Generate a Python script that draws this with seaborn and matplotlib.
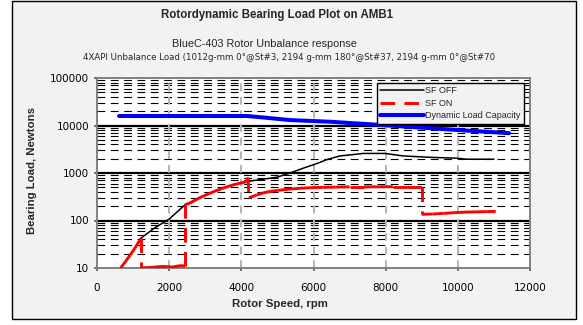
import numpy as np
import pandas as pd
import seaborn as sns
import matplotlib
matplotlib.use("Agg")
import matplotlib.pyplot as plt
from matplotlib.lines import Line2D
from matplotlib.patches import Rectangle
from matplotlib.ticker import FixedLocator, NullFormatter

# ---------------- data ----------------
speed_off = [656, 915, 1190, 1210, 1600, 2000, 2440, 2580, 3000, 3490, 3800, 4160,
             4430, 4990, 5350, 5700, 6090, 6400, 6735, 7010, 7370, 7980, 8480,
             9230, 9970, 10250, 11000]
load_off = [10, 18.6, 39, 42, 70, 107, 214, 234, 340, 480, 570, 660,
            710, 815, 1000, 1250, 1580, 1950, 2290, 2400, 2580, 2580, 2290,
            2140, 2050, 1950, 1950]

speed_on = [656, 800, 915, 1050, 1190, 1210, 1210, 1500, 1800, 2100, 2300, 2440,
            2440, 2580, 2800, 3000, 3250, 3490, 3800, 4000, 4160, 4190, 4210,
            4430, 4600, 4800, 5000, 5350, 5600, 5900, 6260, 6600, 7000, 7400,
            7800, 8200, 8600, 9000, 9000, 9300, 9600, 9900, 10200, 10500, 10800,
            11050]
load_on = [10, 14, 18.6, 26, 39, 42, 10, 10.3, 10.8, 10.5, 11.2, 11,
           214, 234, 290, 340, 410, 480, 570, 620, 660, 800, 300,
           345, 380, 410, 430, 460, 475, 490, 500, 505, 510, 510,
           512, 515, 515, 515, 135, 137, 141, 146, 150, 152, 154,
           155]

speed_cap = [610, 1500, 2500, 3500, 4160, 4800, 5350, 6460, 8000, 10000, 11420]
load_cap = [15850, 15850, 15850, 15850, 15850, 14300, 13000, 12000, 10100, 8030, 6900]

x_ticks = [0, 2000, 4000, 6000, 8000, 10000, 12000]
y_ticks = [10, 100, 1000, 10000, 100000]
y_tick_labels = ["10", "100", "1000", "10000", "100000"]

series_names = ["SF OFF", "SF ON", "Dynamic Load Capacity"]
title = "Rotordynamic Bearing Load Plot on AMB1"
subtitle = "BlueC-403 Rotor Unbalance response"
subtitle2 = "4XAPI Unbalance Load (1012g-mm 0°@St#3, 2194 g-mm 180°@St#37, 2194 g-mm 0°@St#70"

# ---------------- styling ----------------
sns.set_theme(style="white")
plt.rcParams["font.family"] = ["Liberation Sans", "DejaVu Sans"]

W, H = 583, 325
fig = plt.figure(figsize=(W / 100, H / 100), dpi=100)
fig.patch.set_facecolor("white")
fig.add_artist(Rectangle((12 / W, 1 - 319 / H), (576 - 12) / W, (319 - 1) / H,
                         transform=fig.transFigure, facecolor="#f2f2f2",
                         edgecolor="black", linewidth=1.0, zorder=0))

ax = fig.add_axes([97 / W, 1 - 268 / H, (530 - 97) / W, (268 - 78) / H])
ax.set_facecolor("white")
ax.set_yscale("log")
ax.set_xlim(0, 12000)
ax.set_ylim(10, 100000)

# grid lines
for yv in y_ticks[1:-1]:
    ax.axhline(yv, color="black", lw=1.6, zorder=1)
minor = [m * 10 ** d for d in range(1, 5) for m in range(2, 10)]
for yv in minor:
    ax.axhline(yv, color="black", lw=0.8, ls=(0, (7, 5)), zorder=1)
for xv in x_ticks[1:-1]:
    ax.axvline(xv, color="#b4b4b4", lw=1.4, ls=(0, (4, 3)), zorder=2)

# SF OFF
df_off = pd.DataFrame({"speed": speed_off, "load": load_off})
sns.lineplot(data=df_off, x="speed", y="load", ax=ax, color="black", lw=1.1,
             sort=False, estimator=None, zorder=3)

# SF ON: each segment drawn separately so dashes restart (Excel style)
seg_rows = []
for i in range(len(speed_on) - 1):
    seg_rows.append({"seg": i, "speed": speed_on[i], "load": load_on[i]})
    seg_rows.append({"seg": i, "speed": speed_on[i + 1], "load": load_on[i + 1]})
df_on = pd.DataFrame(seg_rows)
sns.lineplot(data=df_on, x="speed", y="load", units="seg", estimator=None, ax=ax,
             color="#ff0000", lw=2.1, sort=False, zorder=4)
for ln in ax.get_lines()[-len(speed_on) + 1:]:
    ln.set_linestyle((0, (5, 3.2)))
    ln.set_solid_capstyle("butt")
    ln.set_dash_capstyle("butt")

# Dynamic load capacity
df_cap = pd.DataFrame({"speed": speed_cap, "load": load_cap})
sns.lineplot(data=df_cap, x="speed", y="load", ax=ax, color="#0000ff", lw=2.9,
             sort=False, estimator=None, zorder=5)

# axes / ticks
ax.yaxis.set_major_locator(FixedLocator(y_ticks))
ax.set_yticklabels(y_tick_labels)
ax.yaxis.set_minor_locator(FixedLocator([]))
ax.yaxis.set_minor_formatter(NullFormatter())
ax.set_xticks(x_ticks)
ax.set_xticklabels([str(v) for v in x_ticks])
ax.tick_params(axis="both", which="major", direction="inout", length=5, width=1.2,
               color="#555555", labelsize=7.5, labelcolor="black")
ax.tick_params(axis="x", pad=8)
ax.tick_params(axis="y", pad=3, left=True)
ax.tick_params(axis="x", bottom=True)
for lab in ax.get_xticklabels() + ax.get_yticklabels():
    lab.set_fontfamily("DejaVu Sans")
for s in ax.spines.values():
    s.set_color("#808080")
    s.set_linewidth(1.4)
    s.set_visible(True)
ax.set_xlabel("")
ax.set_ylabel("")

fig.text(32 / W, 1 - 170 / H, "Bearing Load, Newtons", rotation=90, ha="center",
         va="center", fontsize=8.2, fontweight="bold")
fig.text(280 / W, 1 - 304 / H, "Rotor Speed, rpm", ha="center", va="center",
         fontsize=8.2, fontweight="bold")
fig.text(277.5 / W, 1 - 15 / H, title, ha="center", va="center", fontsize=8.3,
         fontweight="bold")
fig.text(264 / W, 1 - 44 / H, subtitle, ha="center", va="center", fontsize=7.8)
fig.text(289.5 / W, 1 - 57 / H, subtitle2, ha="center", va="center", fontsize=6.2,
         family=["DejaVu Sans"])

handles = [
    Line2D([], [], color="black", lw=1.1),
    Line2D([], [], color="#ff0000", lw=2.1, ls=(0, (5, 3.2))),
    Line2D([], [], color="#0000ff", lw=2.9),
]
leg = ax.legend(handles, series_names, loc="upper right",
                bbox_to_anchor=((524 - 97) / 433, (268 - 83) / 190),
                fontsize=6.5, handlelength=4.8, handletextpad=0.2,
                borderpad=0.35, labelspacing=0.4, frameon=True, fancybox=False,
                borderaxespad=0)
leg.get_frame().set_edgecolor("black")
leg.get_frame().set_facecolor("#f2f2f2")
leg.get_frame().set_linewidth(1.0)
leg.get_frame().set_alpha(1)
leg.set_zorder(10)

fig.savefig("out.png", dpi=100)
